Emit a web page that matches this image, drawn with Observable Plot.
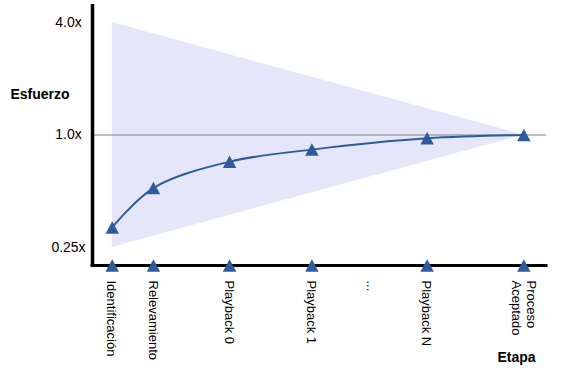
<!DOCTYPE html>
<html>
<head>
<meta charset="utf-8">
<script src="https://cdn.jsdelivr.net/npm/d3@7"></script>
<script src="https://cdn.jsdelivr.net/npm/@observablehq/plot@0.6"></script>
<style>
  html, body { margin: 0; padding: 0; background: #ffffff; }
  #chart svg { display: block; }
</style>
</head>
<body>
<div id="chart"></div>
<script>
// Stages along the x axis (position)
const stages = ["Identificación", "Relevamiento", "Playback 0", "Playback 1", "...", "Playback N", "Proceso\nAceptado"];
const stagePos = [0, 1, 2.85, 4.85, 6.3, 7.65, 10];
// Effort estimate (multiplier) at each stage; "..." has none
const effort = [0.32, 0.52, 0.72, 0.835, NaN, 0.96, 1.0];

// Cone of uncertainty bounds
const coneX = [0, 10];
const coneLow = [0.25, 1];
const coneHigh = [4, 1];

// Y ticks
const yTicks = [0.25, 1, 4];
const yTickLabels = ["0.25x", "1.0x", "4.0x"];

const xDomain = [-0.48, 10.55];
const yDomain = [0.2, 5];

const blue = "#2d5b9c";
const tri = {
  draw(ctx) {
    const h = 12.5, w = 13.5;
    ctx.moveTo(0, -h / 2);
    ctx.lineTo(w / 2, h / 2);
    ctx.lineTo(-w / 2, h / 2);
    ctx.closePath();
  }
};

const idx = d3.range(stages.length);
const pts = idx.filter(i => !isNaN(effort[i])).map(i => ({x: stagePos[i], y: effort[i]}));
const cone = coneX.map((x, i) => ({x, lo: coneLow[i], hi: coneHigh[i]}));

const chart = Plot.plot({
  width: 581,
  height: 378,
  marginLeft: 92,
  marginRight: 35,
  marginTop: 4,
  marginBottom: 113,
  x: {domain: xDomain, axis: null},
  y: {type: "log", domain: yDomain, axis: null},
  style: {fontFamily: "'Liberation Sans', Arial, sans-serif", background: "#ffffff", color: "#000"},
  marks: [
    Plot.area(cone, {x1: "x", y1: "lo", y2: "hi", fill: "#e6e6fa"}),
    Plot.ruleY([1], {stroke: "#808080", strokeWidth: 1}),
    Plot.line(pts, {x: "x", y: "y", curve: "catmull-rom", stroke: blue, strokeWidth: 2}),
    Plot.dot(pts, {x: "x", y: "y", symbol: tri, fill: blue, stroke: null}),
    Plot.ruleX([xDomain[0]], {stroke: "#000", strokeWidth: 3.5}),
    Plot.ruleY([yDomain[0]], {stroke: "#000", strokeWidth: 3, strokeLinecap: "square"}),
    Plot.dot(idx.filter(i => !isNaN(effort[i])), {x: i => stagePos[i], frameAnchor: "bottom", symbol: tri, fill: blue, stroke: null}),
    Plot.text(idx, {x: i => stagePos[i], text: i => stages[i], frameAnchor: "bottom", dy: 15, rotate: 90, textAnchor: "start", lineAnchor: "middle", fontSize: 13, lineHeight: 1.15, fill: "#000"}),
    Plot.text(yTicks, {y: d => d, text: (d, i) => yTickLabels[i], frameAnchor: "left", dx: -24, textAnchor: "middle", fontSize: 14, fill: "#000"}),
    Plot.text(["Esfuerzo"], {frameAnchor: "top-left", dx: -82, dy: 85, textAnchor: "start", fontWeight: "bold", fontSize: 14, fill: "#000"}),
    Plot.text(["Etapa"], {frameAnchor: "bottom-right", dx: -30, dy: 96, textAnchor: "middle", fontWeight: "bold", fontSize: 14, fill: "#000"})
  ]
});
document.getElementById("chart").appendChild(chart);
</script>
</body>
</html>
